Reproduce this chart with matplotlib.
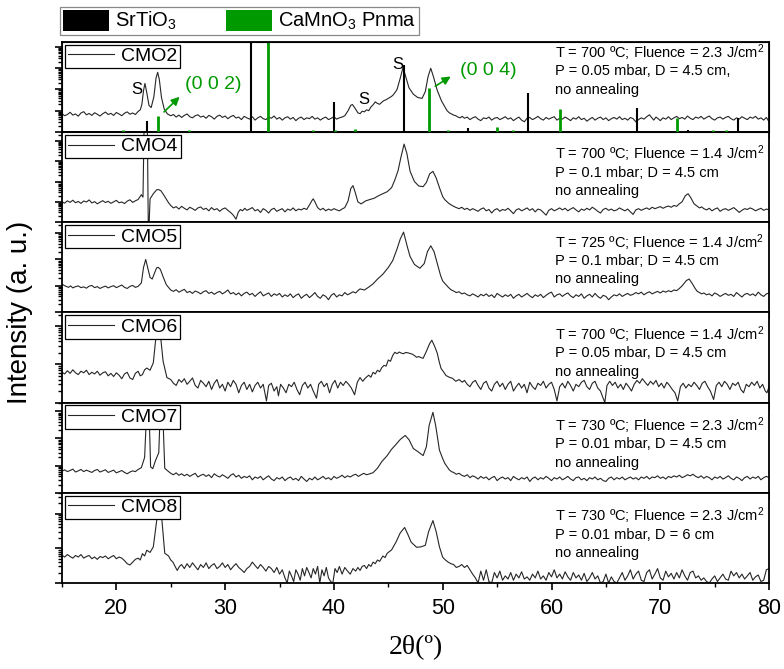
import numpy as np
import matplotlib.pyplot as plt
from matplotlib.patches import Patch
from matplotlib.ticker import LogLocator, MultipleLocator, NullFormatter

plt.rcParams['font.family'] = ['Liberation Sans', 'DejaVu Sans']
plt.rcParams['mathtext.fontset'] = 'custom'
plt.rcParams['mathtext.rm'] = 'Liberation Sans'
plt.rcParams['mathtext.it'] = 'Liberation Sans:italic'

GREEN = '#009a00'

# XRD patterns: (2theta, counts)
cmo2 = [
    (15.0, 72), (15.25, 58), (15.5, 66), (15.75, 84), (16.0, 62), (16.25, 70), (16.5, 55), (16.75, 78),
    (17.0, 90), (17.25, 64), (17.5, 74), (17.75, 60), (18.0, 80), (18.25, 68), (18.5, 56), (18.75, 72),
    (19.0, 86), (19.25, 66), (19.5, 75), (19.75, 60), (20.0, 82), (20.25, 70), (20.5, 58), (20.75, 76),
    (21.0, 88), (21.25, 68), (21.5, 78), (21.75, 66), (22.0, 92), (22.2, 110), (22.35, 200), (22.5, 900),
    (22.63, 1930), (22.8, 700), (23.0, 180), (23.2, 140), (23.45, 450), (23.65, 3500), (23.8, 6450), (23.95, 3000),
    (24.15, 420), (24.4, 120), (24.7, 70), (25.0, 58), (25.25, 66), (25.5, 50), (25.75, 62), (26.0, 48),
    (26.25, 60), (26.5, 70), (26.75, 52), (27.0, 46), (27.25, 58), (27.5, 64), (27.75, 50), (28.0, 56),
    (28.25, 44), (28.5, 60), (28.75, 52), (29.0, 40), (29.25, 54), (29.5, 62), (29.75, 48), (30.0, 56),
    (30.25, 42), (30.5, 52), (30.75, 60), (31.0, 45), (31.25, 50), (31.5, 38), (31.75, 54), (32.0, 46),
    (32.25, 40), (32.5, 52), (32.75, 36), (33.0, 46), (33.25, 54), (33.5, 42), (33.75, 38), (34.0, 50),
    (34.25, 44), (34.5, 56), (34.75, 40), (35.0, 48), (35.25, 36), (35.5, 46), (35.75, 52), (36.0, 40),
    (36.25, 48), (36.5, 34), (36.75, 44), (37.0, 50), (37.25, 38), (37.5, 46), (37.75, 42), (38.0, 54),
    (38.25, 40), (38.5, 46), (38.75, 36), (39.0, 44), (39.25, 50), (39.5, 38), (39.75, 44), (40.0, 52),
    (40.25, 40), (40.5, 46), (40.75, 50), (41.0, 58), (41.3, 100), (41.55, 180), (41.7, 195), (41.9, 140),
    (42.2, 80), (42.4, 72), (42.6, 95), (42.8, 88), (43.0, 110), (43.2, 100), (43.4, 150), (43.6, 190),
    (43.8, 260), (44.0, 220), (44.2, 200), (44.4, 250), (44.6, 300), (44.8, 330), (45.0, 380), (45.2, 440),
    (45.4, 520), (45.6, 700), (45.8, 1000), (46.1, 3500), (46.35, 11000), (46.6, 4000), (46.9, 1200), (47.3, 600),
    (47.7, 420), (48.1, 380), (48.4, 800), (48.65, 4000), (48.9, 10000), (49.15, 4000), (49.5, 900), (49.9, 280),
    (50.4, 100), (50.6, 80), (50.8, 70), (51.0, 62), (51.2, 58), (51.4, 50), (51.6, 46), (51.8, 54),
    (52.0, 44), (52.25, 50), (52.5, 38), (52.75, 46), (53.0, 52), (53.25, 40), (53.5, 34), (53.75, 46),
    (54.0, 42), (54.25, 50), (54.5, 36), (54.75, 44), (55.0, 48), (55.25, 38), (55.5, 44), (55.75, 52),
    (56.0, 40), (56.25, 46), (56.5, 34), (56.75, 42), (57.0, 50), (57.25, 36), (57.5, 30), (57.75, 44),
    (58.0, 48), (58.25, 38), (58.5, 44), (58.75, 54), (59.0, 42), (59.25, 36), (59.5, 48), (59.75, 40),
    (60.0, 46), (60.25, 52), (60.5, 36), (60.75, 44), (61.0, 40), (61.25, 50), (61.5, 42), (61.75, 34),
    (62.0, 46), (62.25, 40), (62.5, 52), (62.75, 38), (63.0, 44), (63.25, 32), (63.5, 40), (63.75, 48),
    (64.0, 36), (64.25, 44), (64.5, 50), (64.75, 38), (65.0, 46), (65.25, 34), (65.5, 42), (65.75, 48),
    (66.0, 40), (66.25, 52), (66.5, 38), (66.75, 44), (67.0, 36), (67.25, 48), (67.5, 42), (67.75, 30),
    (68.0, 38), (68.25, 46), (68.5, 40), (68.75, 52), (69.0, 64), (69.2, 48), (69.4, 36), (69.6, 50),
    (69.8, 42), (70.0, 34), (70.25, 46), (70.5, 40), (70.75, 52), (71.0, 38), (71.25, 46), (71.5, 54),
    (71.75, 42), (72.0, 48), (72.25, 40), (72.5, 56), (72.75, 44), (73.0, 38), (73.25, 50), (73.5, 44),
    (73.75, 54), (74.0, 40), (74.25, 48), (74.5, 56), (74.75, 42), (75.0, 36), (75.25, 46), (75.5, 50),
    (75.75, 40), (76.0, 48), (76.25, 54), (76.5, 42), (76.75, 36), (77.0, 46), (77.25, 40), (77.5, 52),
    (77.75, 44), (78.0, 38), (78.25, 50), (78.5, 44), (78.75, 54), (79.0, 40), (79.25, 46), (79.5, 36),
    (79.75, 48), (80.0, 30),
]

cmo4 = [
    (15.0, 100), (15.25, 86), (15.5, 112), (15.75, 94), (16.0, 120), (16.25, 90), (16.5, 104), (16.75, 84),
    (17.0, 110), (17.25, 98), (17.5, 124), (17.75, 88), (18.0, 102), (18.25, 80), (18.5, 96), (18.75, 114),
    (19.0, 92), (19.25, 106), (19.5, 84), (19.75, 100), (20.0, 118), (20.25, 90), (20.5, 98), (20.75, 82),
    (21.0, 108), (21.25, 126), (21.5, 94), (21.75, 112), (22.0, 130), (22.3, 224), (22.45, 170), (22.55, 500000),
    (22.85, 500000), (22.95, 1), (23.1, 140), (23.4, 250), (23.7, 390), (23.9, 400), (24.1, 350), (24.4, 200),
    (24.8, 90), (25.0, 66), (25.25, 50), (25.5, 58), (25.75, 44), (26.0, 60), (26.25, 48), (26.5, 40),
    (26.75, 54), (27.0, 46), (27.25, 38), (27.5, 50), (27.75, 56), (28.0, 42), (28.25, 48), (28.5, 36),
    (28.75, 52), (29.0, 40), (29.25, 46), (29.5, 34), (29.75, 44), (30.0, 50), (30.25, 38), (30.5, 30),
    (30.75, 22), (31.0, 14), (31.2, 30), (31.4, 42), (31.6, 36), (31.8, 48), (32.0, 38), (32.25, 44),
    (32.5, 52), (32.75, 36), (33.0, 42), (33.25, 30), (33.5, 46), (33.75, 38), (34.0, 28), (34.25, 42),
    (34.5, 48), (34.75, 34), (35.0, 40), (35.25, 46), (35.5, 32), (35.75, 44), (36.0, 38), (36.25, 50),
    (36.5, 36), (36.75, 44), (37.0, 40), (37.25, 48), (37.5, 42), (37.75, 70), (38.0, 120), (38.1, 140),
    (38.25, 100), (38.5, 52), (38.75, 40), (39.0, 48), (39.25, 36), (39.5, 44), (39.75, 38), (40.0, 46),
    (40.25, 40), (40.5, 36), (40.75, 44), (41.0, 52), (41.3, 110), (41.55, 450), (41.75, 630), (41.95, 300),
    (42.2, 100), (42.5, 79), (42.9, 110), (43.3, 130), (43.7, 150), (44.1, 200), (44.5, 250), (44.9, 316),
    (45.3, 500), (45.6, 1200), (45.9, 3500), (46.15, 15000), (46.45, 70000), (46.7, 25000), (47.0, 3200), (47.4, 1000),
    (47.8, 600), (48.2, 560), (48.5, 900), (48.8, 2400), (49.1, 3160), (49.4, 1500), (49.7, 500), (50.0, 180),
    (50.2, 126), (50.6, 80), (51.0, 60), (51.25, 52), (51.5, 46), (51.75, 54), (52.0, 42), (52.25, 48),
    (52.5, 38), (52.75, 46), (53.0, 40), (53.25, 34), (53.5, 44), (53.75, 50), (54.0, 36), (54.25, 42),
    (54.5, 28), (54.75, 40), (55.0, 46), (55.25, 34), (55.5, 42), (55.75, 38), (56.0, 48), (56.25, 36),
    (56.5, 26), (56.75, 40), (57.0, 46), (57.25, 36), (57.5, 42), (57.75, 50), (58.0, 38), (58.25, 46),
    (58.5, 32), (58.75, 44), (59.0, 40), (59.25, 30), (59.5, 22), (59.75, 38), (60.0, 46), (60.25, 36),
    (60.5, 42), (60.75, 50), (61.0, 40), (61.25, 48), (61.5, 36), (61.75, 44), (62.0, 52), (62.25, 40),
    (62.5, 32), (62.75, 44), (63.0, 38), (63.25, 48), (63.5, 40), (63.75, 54), (64.0, 44), (64.25, 34),
    (64.5, 28), (64.75, 42), (65.0, 48), (65.25, 38), (65.5, 44), (65.75, 36), (66.0, 40), (66.25, 50),
    (66.5, 42), (66.75, 36), (67.0, 44), (67.25, 32), (67.5, 24), (67.75, 40), (68.0, 46), (68.25, 38),
    (68.5, 44), (68.75, 50), (69.0, 42), (69.25, 54), (69.5, 46), (69.75, 52), (70.0, 58), (70.25, 48),
    (70.5, 56), (70.75, 62), (71.0, 54), (71.25, 66), (71.5, 60), (71.75, 80), (72.0, 100), (72.3, 200),
    (72.55, 251), (72.8, 160), (73.1, 80), (73.4, 60), (73.6, 50), (73.8, 56), (74.0, 46), (74.25, 40),
    (74.5, 48), (74.75, 36), (75.0, 44), (75.25, 50), (75.5, 34), (75.75, 42), (76.0, 46), (76.25, 38),
    (76.5, 44), (76.75, 52), (77.0, 40), (77.25, 30), (77.5, 38), (77.75, 46), (78.0, 42), (78.25, 50),
    (78.5, 44), (78.75, 36), (79.0, 42), (79.25, 48), (79.5, 38), (79.75, 44), (80.0, 40),
]

cmo5 = [
    (15.0, 119), (15.2, 104), (15.4, 96), (15.6, 88), (15.8, 100), (16.0, 84), (16.25, 94), (16.5, 100),
    (16.75, 86), (17.0, 92), (17.25, 82), (17.5, 98), (17.75, 104), (18.0, 86), (18.25, 94), (18.5, 80),
    (18.75, 90), (19.0, 98), (19.25, 84), (19.5, 94), (19.75, 102), (20.0, 86), (20.25, 96), (20.5, 108),
    (20.75, 88), (21.0, 80), (21.25, 96), (21.5, 104), (21.75, 88), (22.0, 96), (22.3, 130), (22.5, 500),
    (22.7, 1000), (22.9, 450), (23.1, 210), (23.3, 182), (23.5, 300), (23.7, 480), (23.85, 506), (24.05, 420),
    (24.3, 220), (24.6, 110), (25.0, 70), (25.25, 62), (25.5, 72), (25.75, 58), (26.0, 66), (26.25, 74),
    (26.5, 56), (26.75, 62), (27.0, 52), (27.25, 64), (27.5, 58), (27.75, 50), (28.0, 60), (28.25, 66),
    (28.5, 52), (28.75, 58), (29.0, 48), (29.25, 56), (29.5, 62), (29.75, 50), (30.0, 58), (30.25, 70),
    (30.5, 50), (30.75, 56), (31.0, 46), (31.25, 54), (31.5, 42), (31.75, 52), (32.0, 58), (32.25, 46),
    (32.5, 52), (32.75, 40), (33.0, 50), (33.25, 60), (33.5, 42), (33.75, 48), (34.0, 54), (34.25, 40),
    (34.5, 50), (34.75, 44), (35.0, 52), (35.25, 38), (35.5, 46), (35.75, 40), (36.0, 50), (36.25, 36),
    (36.5, 44), (36.75, 50), (37.0, 34), (37.25, 42), (37.5, 48), (37.75, 36), (38.0, 44), (38.25, 56),
    (38.5, 40), (38.75, 34), (39.0, 46), (39.25, 40), (39.5, 30), (39.75, 44), (40.0, 52), (40.25, 38),
    (40.5, 46), (40.75, 42), (41.0, 56), (41.25, 46), (41.5, 52), (41.75, 60), (42.0, 54), (42.2, 66),
    (42.4, 77), (42.8, 70), (43.2, 90), (43.6, 120), (44.0, 180), (44.5, 278), (45.0, 500), (45.4, 900),
    (45.8, 2500), (46.1, 6000), (46.4, 10890), (46.75, 3000), (47.0, 1300), (47.4, 650), (47.9, 465), (48.3, 700),
    (48.6, 2000), (48.9, 3300), (49.2, 2000), (49.5, 700), (49.8, 250), (50.0, 153), (50.5, 90), (50.75, 72),
    (51.0, 64), (51.25, 56), (51.5, 60), (51.75, 50), (52.0, 54), (52.25, 46), (52.5, 42), (52.75, 50),
    (53.0, 44), (53.25, 38), (53.5, 48), (53.75, 42), (54.0, 50), (54.25, 40), (54.5, 46), (54.75, 36),
    (55.0, 52), (55.25, 44), (55.5, 38), (55.75, 46), (56.0, 40), (56.25, 48), (56.5, 34), (56.75, 42),
    (57.0, 48), (57.25, 38), (57.5, 44), (57.75, 52), (58.0, 42), (58.25, 36), (58.5, 46), (58.75, 40),
    (59.0, 48), (59.25, 36), (59.5, 44), (59.75, 52), (60.0, 58), (60.25, 38), (60.5, 46), (60.75, 50),
    (61.0, 40), (61.25, 48), (61.5, 54), (61.75, 42), (62.0, 36), (62.25, 46), (62.5, 40), (62.75, 50),
    (63.0, 34), (63.25, 42), (63.5, 48), (63.75, 38), (64.0, 52), (64.25, 40), (64.5, 34), (64.75, 44),
    (65.0, 40), (65.25, 30), (65.5, 38), (65.75, 46), (66.0, 42), (66.25, 50), (66.5, 40), (66.75, 46),
    (67.0, 52), (67.25, 44), (67.5, 48), (67.75, 56), (68.0, 50), (68.25, 58), (68.5, 46), (68.75, 54),
    (69.0, 60), (69.25, 50), (69.5, 56), (69.75, 62), (70.0, 54), (70.25, 64), (70.5, 58), (70.75, 66),
    (71.0, 60), (71.25, 70), (71.5, 66), (71.75, 80), (72.0, 100), (72.4, 160), (72.65, 182), (72.9, 130),
    (73.2, 80), (73.4, 62), (73.6, 56), (73.8, 50), (74.0, 54), (74.25, 46), (74.5, 50), (74.75, 42),
    (75.0, 54), (75.25, 48), (75.5, 40), (75.75, 46), (76.0, 52), (76.25, 44), (76.5, 48), (76.75, 40),
    (77.0, 56), (77.25, 46), (77.5, 38), (77.75, 48), (78.0, 52), (78.25, 44), (78.5, 50), (78.75, 42),
    (79.0, 58), (79.25, 46), (79.5, 40), (79.75, 50), (80.0, 54),
]

cmo6 = [
    (15.0, 62), (15.25, 56), (15.5, 68), (15.75, 58), (16.0, 72), (16.25, 60), (16.5, 54), (16.75, 66),
    (17.0, 60), (17.25, 70), (17.5, 54), (17.75, 62), (18.0, 56), (18.25, 66), (18.5, 52), (18.75, 60),
    (19.0, 64), (19.25, 50), (19.5, 58), (19.75, 48), (20.0, 60), (20.25, 52), (20.5, 42), (20.75, 56),
    (21.0, 62), (21.25, 44), (21.5, 40), (21.75, 58), (22.0, 66), (22.2, 50), (22.4, 54), (22.6, 72),
    (22.8, 80), (23.1, 70), (23.4, 110), (23.6, 400), (23.85, 1700), (24.05, 600), (24.3, 120), (24.65, 45),
    (25.0, 40), (25.25, 32), (25.5, 28), (25.75, 40), (26.0, 34), (26.25, 42), (26.5, 30), (26.75, 36),
    (27.0, 44), (27.25, 28), (27.5, 24), (27.75, 38), (28.0, 32), (28.25, 26), (28.5, 36), (28.75, 22),
    (29.0, 32), (29.25, 40), (29.5, 24), (29.75, 30), (30.0, 20), (30.25, 34), (30.5, 26), (30.75, 38),
    (31.0, 30), (31.25, 18), (31.5, 28), (31.75, 34), (32.0, 22), (32.25, 30), (32.5, 19), (32.75, 28),
    (33.0, 34), (33.25, 24), (33.5, 30), (33.8, 11), (34.0, 28), (34.25, 32), (34.5, 20), (34.75, 26),
    (34.9, 15), (35.1, 30), (35.35, 24), (35.6, 18), (35.85, 30), (36.1, 26), (36.35, 34), (36.6, 22),
    (36.85, 16), (37.1, 28), (37.35, 34), (37.6, 24), (37.85, 30), (38.1, 20), (38.4, 13), (38.6, 30),
    (38.85, 36), (39.1, 26), (39.35, 32), (39.6, 18), (39.85, 30), (40.1, 38), (40.35, 24), (40.6, 34),
    (40.85, 28), (41.1, 36), (41.35, 30), (41.6, 24), (41.9, 16), (42.15, 34), (42.4, 45), (42.65, 36),
    (42.9, 44), (43.2, 52), (43.4, 46), (43.6, 62), (43.8, 56), (44.0, 70), (44.2, 64), (44.4, 82),
    (44.6, 94), (44.8, 90), (45.0, 130), (45.2, 120), (45.4, 170), (45.6, 207), (45.8, 190), (46.0, 210),
    (46.2, 196), (46.4, 190), (46.6, 205), (46.8, 200), (47.0, 192), (47.2, 185), (47.4, 170), (47.6, 153),
    (47.8, 160), (48.0, 150), (48.2, 144), (48.5, 220), (48.8, 350), (49.0, 428), (49.25, 300), (49.5, 195),
    (49.7, 110), (49.85, 78), (50.1, 62), (50.3, 51), (50.6, 46), (50.9, 43), (51.2, 36), (51.5, 40),
    (51.8, 34), (52.0, 38), (52.25, 30), (52.5, 26), (52.75, 34), (53.0, 38), (53.25, 28), (53.5, 22),
    (53.75, 32), (54.0, 36), (54.25, 24), (54.5, 20), (54.75, 30), (55.0, 36), (55.25, 26), (55.5, 32),
    (55.75, 22), (56.0, 30), (56.25, 36), (56.5, 20), (56.75, 26), (57.0, 32), (57.25, 24), (57.5, 30),
    (57.75, 18), (58.0, 34), (58.25, 26), (58.5, 22), (58.75, 32), (59.0, 28), (59.25, 36), (59.5, 24),
    (59.75, 30), (60.0, 34), (60.25, 22), (60.5, 11), (60.75, 26), (61.0, 32), (61.25, 24), (61.5, 36),
    (61.75, 28), (62.0, 20), (62.25, 30), (62.5, 26), (62.75, 34), (63.0, 38), (63.25, 26), (63.5, 22),
    (63.75, 32), (64.0, 36), (64.25, 24), (64.5, 20), (64.7, 14), (64.9, 10), (65.1, 28), (65.35, 36),
    (65.6, 28), (65.85, 34), (66.1, 24), (66.35, 30), (66.6, 22), (66.85, 32), (67.1, 26), (67.35, 20),
    (67.6, 30), (67.85, 38), (68.1, 32), (68.35, 42), (68.6, 34), (68.85, 28), (69.1, 36), (69.35, 30),
    (69.6, 38), (69.85, 26), (70.1, 32), (70.35, 24), (70.6, 34), (70.85, 28), (71.1, 22), (71.35, 18),
    (71.6, 11), (71.85, 26), (72.1, 32), (72.35, 24), (72.6, 30), (72.85, 26), (73.1, 34), (73.35, 28),
    (73.6, 22), (73.85, 32), (74.1, 36), (74.35, 26), (74.6, 20), (74.9, 12), (75.15, 28), (75.4, 34),
    (75.65, 26), (75.9, 36), (76.15, 30), (76.4, 22), (76.65, 32), (76.9, 28), (77.15, 34), (77.4, 22),
    (77.65, 18), (77.9, 30), (78.15, 26), (78.4, 34), (78.65, 28), (78.9, 36), (79.15, 24), (79.4, 30),
    (79.65, 20), (79.8, 18), (80.0, 26),
]

cmo7 = [
    (15.0, 62), (15.25, 70), (15.5, 60), (15.75, 66), (16.0, 74), (16.25, 58), (16.5, 64), (16.75, 72),
    (17.0, 60), (17.25, 68), (17.5, 62), (17.75, 56), (18.0, 66), (18.25, 72), (18.5, 58), (18.75, 64),
    (19.0, 70), (19.25, 56), (19.5, 62), (19.75, 68), (20.0, 54), (20.25, 60), (20.5, 66), (20.75, 56),
    (21.0, 50), (21.25, 58), (21.5, 64), (21.75, 60), (22.0, 72), (22.3, 84), (22.6, 200), (22.8, 14000),
    (23.0, 14000), (23.15, 90), (23.35, 77), (23.6, 153), (23.9, 300), (24.05, 14000), (24.25, 14000), (24.45, 80),
    (24.7, 65), (25.0, 52), (25.25, 46), (25.5, 54), (25.75, 44), (26.0, 50), (26.25, 42), (26.5, 48),
    (26.75, 40), (27.0, 46), (27.25, 52), (27.5, 38), (27.75, 44), (28.0, 48), (28.25, 40), (28.5, 46),
    (28.75, 36), (29.0, 50), (29.25, 42), (29.5, 38), (29.75, 46), (30.0, 40), (30.25, 34), (30.5, 44),
    (30.75, 50), (31.0, 38), (31.25, 44), (31.5, 34), (31.75, 40), (32.0, 36), (32.25, 42), (32.5, 30),
    (32.75, 38), (33.0, 34), (33.25, 40), (33.5, 30), (33.75, 36), (34.0, 42), (34.25, 32), (34.5, 28),
    (34.75, 36), (35.0, 32), (35.25, 38), (35.5, 28), (35.75, 34), (36.0, 38), (36.25, 30), (36.5, 34),
    (36.75, 28), (37.0, 40), (37.25, 32), (37.5, 26), (37.75, 34), (38.0, 30), (38.25, 38), (38.5, 30),
    (38.75, 34), (39.0, 40), (39.25, 32), (39.5, 36), (39.75, 30), (40.0, 40), (40.25, 34), (40.5, 38),
    (40.75, 44), (41.0, 36), (41.25, 42), (41.5, 38), (41.75, 44), (42.0, 48), (42.25, 40), (42.5, 46),
    (42.75, 52), (43.0, 46), (43.3, 50), (43.6, 55), (44.0, 80), (44.4, 140), (44.9, 234), (45.3, 400),
    (45.7, 600), (46.1, 920), (46.55, 1290), (46.9, 900), (47.3, 427), (47.7, 330), (48.2, 234), (48.5, 500),
    (48.75, 3000), (49.1, 9180), (49.35, 3000), (49.7, 370), (50.0, 180), (50.2, 119), (50.6, 70), (50.8, 60),
    (51.0, 56), (51.25, 48), (51.5, 52), (51.75, 44), (52.0, 40), (52.25, 46), (52.5, 36), (52.75, 42),
    (53.0, 38), (53.25, 32), (53.5, 40), (53.75, 34), (54.0, 38), (54.25, 30), (54.5, 36), (54.75, 40),
    (55.0, 28), (55.25, 34), (55.5, 38), (55.75, 32), (56.0, 36), (56.25, 28), (56.5, 40), (56.75, 34),
    (57.0, 30), (57.25, 36), (57.5, 32), (57.75, 38), (58.0, 26), (58.25, 34), (58.5, 38), (58.75, 30),
    (59.0, 36), (59.25, 32), (59.5, 40), (59.75, 34), (60.0, 28), (60.25, 36), (60.5, 32), (60.75, 38),
    (61.0, 30), (61.25, 34), (61.5, 40), (61.75, 32), (62.0, 28), (62.25, 36), (62.5, 38), (62.75, 30),
    (63.0, 34), (63.25, 28), (63.5, 36), (63.75, 32), (64.0, 38), (64.25, 30), (64.5, 34), (64.75, 28),
    (65.0, 26), (65.25, 34), (65.5, 38), (65.75, 30), (66.0, 36), (66.25, 32), (66.5, 38), (66.75, 30),
    (67.0, 34), (67.25, 38), (67.5, 32), (67.75, 36), (68.0, 30), (68.25, 38), (68.5, 34), (68.75, 40),
    (69.0, 32), (69.25, 38), (69.5, 36), (69.75, 42), (70.0, 34), (70.25, 38), (70.5, 32), (70.75, 40),
    (71.0, 36), (71.25, 42), (71.5, 38), (71.75, 44), (72.0, 36), (72.25, 40), (72.5, 46), (72.75, 42),
    (73.0, 48), (73.25, 40), (73.5, 36), (73.75, 42), (74.0, 34), (74.25, 40), (74.5, 36), (74.75, 30),
    (75.0, 38), (75.25, 34), (75.5, 40), (75.75, 32), (76.0, 36), (76.25, 42), (76.5, 34), (76.75, 30),
    (77.0, 38), (77.25, 34), (77.5, 28), (77.75, 36), (78.0, 40), (78.25, 32), (78.5, 38), (78.75, 34),
    (79.0, 40), (79.25, 30), (79.5, 36), (79.75, 40), (80.0, 36),
]

cmo8 = [
    (15.0, 63), (15.25, 56), (15.5, 66), (15.75, 58), (16.0, 52), (16.25, 62), (16.5, 56), (16.75, 66),
    (17.0, 52), (17.25, 58), (17.5, 62), (17.75, 50), (18.0, 56), (18.25, 48), (18.5, 58), (18.75, 54),
    (19.0, 60), (19.25, 50), (19.5, 56), (19.75, 62), (20.0, 50), (20.25, 56), (20.5, 52), (20.75, 44),
    (21.0, 36), (21.25, 33), (21.5, 40), (21.75, 48), (22.0, 52), (22.2, 46), (22.4, 70), (22.6, 60),
    (22.8, 88), (23.1, 76), (23.4, 110), (23.7, 600), (23.95, 1930), (24.2, 600), (24.45, 72), (24.8, 60),
    (25.0, 46), (25.2, 40), (25.4, 30), (25.6, 23), (25.8, 30), (26.0, 34), (26.25, 26), (26.5, 36),
    (26.75, 28), (27.0, 38), (27.25, 30), (27.5, 24), (27.75, 34), (28.0, 28), (28.25, 38), (28.5, 26),
    (28.75, 32), (29.0, 36), (29.25, 26), (29.5, 30), (29.75, 38), (30.0, 28), (30.25, 34), (30.5, 24),
    (30.75, 30), (31.0, 36), (31.25, 28), (31.5, 24), (31.75, 20), (32.0, 26), (32.25, 30), (32.5, 40),
    (32.75, 32), (33.0, 26), (33.25, 34), (33.5, 28), (33.75, 22), (34.0, 30), (34.25, 26), (34.5, 20),
    (34.75, 28), (35.0, 18), (35.25, 24), (35.5, 14), (35.7, 10), (35.9, 22), (36.1, 16), (36.3, 11),
    (36.5, 24), (36.7, 18), (36.9, 12), (37.1, 26), (37.3, 16), (37.5, 28), (37.7, 20), (37.9, 14),
    (38.1, 26), (38.3, 18), (38.5, 30), (38.7, 10), (38.9, 24), (39.1, 16), (39.3, 28), (39.5, 14),
    (39.7, 11), (39.9, 10), (40.1, 26), (40.3, 20), (40.5, 30), (40.75, 18), (41.0, 28), (41.25, 22),
    (41.5, 18), (41.75, 26), (42.0, 22), (42.2, 28), (42.4, 23), (42.6, 30), (42.8, 32), (43.0, 26),
    (43.2, 34), (43.4, 30), (43.6, 40), (43.8, 36), (44.0, 46), (44.2, 42), (44.5, 60), (44.7, 54),
    (44.9, 72), (45.3, 90), (45.7, 150), (46.1, 280), (46.5, 398), (46.8, 250), (47.1, 150), (47.6, 107),
    (48.0, 110), (48.4, 122), (48.7, 300), (49.1, 631), (49.4, 300), (49.7, 110), (50.0, 55), (50.25, 46),
    (50.5, 40), (50.75, 36), (51.0, 34), (51.25, 28), (51.5, 30), (51.75, 34), (52.0, 28), (52.25, 32),
    (52.5, 24), (52.75, 18), (53.0, 14), (53.25, 10), (53.5, 22), (53.75, 12), (54.0, 24), (54.25, 11),
    (54.5, 10), (54.75, 20), (55.0, 14), (55.25, 22), (55.5, 12), (55.75, 16), (56.0, 13), (56.25, 20),
    (56.5, 12), (56.75, 18), (57.0, 14), (57.25, 21), (57.5, 13), (57.75, 15), (58.0, 12), (58.25, 18),
    (58.5, 14), (58.75, 22), (59.0, 13), (59.25, 16), (59.5, 12), (59.75, 20), (60.0, 15), (60.25, 24),
    (60.5, 14), (60.75, 18), (61.0, 13), (61.25, 21), (61.5, 15), (61.75, 12), (62.0, 20), (62.25, 14),
    (62.5, 17), (62.75, 12), (63.0, 19), (63.25, 11), (63.5, 14), (63.75, 20), (64.0, 13), (64.25, 16),
    (64.5, 10), (64.75, 11), (65.0, 18), (65.25, 10), (65.5, 15), (65.75, 11), (66.0, 10), (66.25, 14),
    (66.5, 20), (66.75, 12), (67.0, 16), (67.25, 24), (67.5, 13), (67.75, 18), (68.0, 22), (68.25, 12),
    (68.5, 11), (68.75, 20), (69.0, 24), (69.25, 13), (69.5, 18), (69.75, 26), (70.0, 14), (70.25, 12),
    (70.5, 22), (70.75, 15), (71.0, 19), (71.25, 13), (71.5, 20), (71.75, 14), (72.0, 24), (72.25, 16),
    (72.5, 12), (72.75, 20), (73.0, 22), (73.25, 14), (73.5, 16), (73.75, 12), (74.0, 14), (74.25, 11),
    (74.5, 10), (74.75, 13), (75.0, 16), (75.25, 11), (75.5, 14), (75.75, 18), (76.0, 13), (76.25, 12),
    (76.5, 22), (76.75, 16), (77.0, 20), (77.25, 14), (77.5, 18), (77.75, 13), (78.0, 16), (78.25, 20),
    (78.5, 12), (78.75, 15), (79.0, 17), (79.25, 11), (79.5, 12), (79.75, 24), (80.0, 26),
]

samples = ['CMO2', 'CMO4', 'CMO5', 'CMO6', 'CMO7', 'CMO8']
patterns = [cmo2, cmo4, cmo5, cmo6, cmo7, cmo8]
conditions = [
    ['T = 700 ºC; Fluence = 2.3 J/cm$^2$', 'P = 0.05 mbar, D = 4.5 cm,', 'no annealing'],
    ['T = 700 ºC; Fluence = 1.4 J/cm$^2$', 'P = 0.1 mbar; D = 4.5 cm', 'no annealing'],
    ['T = 725 ºC; Fluence = 1.4 J/cm$^2$', 'P = 0.1 mbar; D = 4.5 cm', 'no annealing'],
    ['T = 700 ºC; Fluence = 1.4 J/cm$^2$', 'P = 0.05 mbar, D = 4.5 cm', 'no annealing'],
    ['T = 730 ºC; Fluence = 2.3 J/cm$^2$', 'P = 0.01 mbar, D = 4.5 cm', 'no annealing'],
    ['T = 730 ºC; Fluence = 2.3 J/cm$^2$', 'P = 0.01 mbar, D = 6 cm', 'no annealing'],
]

# reference patterns (relative intensity, %)
sto_pos = [22.78, 32.42, 40.0, 46.45, 52.36, 57.8, 67.84, 72.56, 77.18]
sto_int = [12, 100, 33, 74, 4, 43, 27, 2, 15]
cmo_pos = [20.6, 23.8, 26.7, 33.95, 38.1, 40.1, 41.9, 48.75, 50.5, 55.0, 56.5, 60.8, 71.5, 74.8, 76.0]
cmo_int = [2, 18, 2, 100, 2, 2, 3, 49, 2, 5, 2, 25, 15, 2, 2]

ylims = [(10, 1.8e5), (10, 2.8e5), (10, 2.6e4), (10, 2.3e3), (10, 2.1e4), (10, 4.0e3)]
text_top_px = [11, 22, 20, 22, 23, 23]  # first text line centre below panel top

fig, axes = plt.subplots(6, 1, sharex=True, figsize=(7.84, 6.69), dpi=100,
                         gridspec_kw=dict(hspace=0))
fig.subplots_adjust(left=0.079, right=0.981, top=0.9377, bottom=0.1286)

panel_h = 89.3
for ax, name, pat, cond, yl, ty in zip(axes, samples, patterns, conditions, ylims, text_top_px):
    tt, counts = np.array(pat, dtype=float).T
    ax.plot(tt, counts, color='#262626', lw=0.8, label=name)
    ax.set_yscale('log')
    ax.set_ylim(*yl)
    ax.set_xlim(15, 80)
    ax.yaxis.set_major_locator(LogLocator(base=10, numticks=20))
    ax.yaxis.set_minor_locator(LogLocator(base=10, subs=np.arange(2, 10), numticks=100))
    ax.yaxis.set_major_formatter(NullFormatter())
    ax.yaxis.set_minor_formatter(NullFormatter())
    ax.xaxis.set_major_locator(MultipleLocator(10))
    ax.xaxis.set_minor_locator(MultipleLocator(5))
    ax.tick_params(axis='both', which='major', direction='out', length=5, width=1.2,
                   labelsize=15.5, pad=6)
    ax.tick_params(axis='both', which='minor', direction='out', length=3, width=1.0)
    for sp in ax.spines.values():
        sp.set_linewidth(1.3)
    leg = ax.legend(loc='upper left', fontsize=14, handlelength=2.4, handletextpad=0.35,
                    borderpad=0.15, borderaxespad=0.15, fancybox=False, framealpha=1,
                    edgecolor='black')
    leg.get_frame().set_linewidth(0.9)
    leg.set_zorder(10)
    for i, line in enumerate(cond):
        ax.text(0.697, 1 - (ty + 18.4 * i) / panel_h, line, transform=ax.transAxes,
                fontsize=10.5, va='center', ha='left')

# stick patterns on the top panel
ax0 = axes[0]
ref = ax0.twinx()
ref.set_ylim(0, 100)
ref.set_yticks([])
ref.vlines(sto_pos, 0, sto_int, color='black', lw=1.5)
ref.vlines(cmo_pos, 0, cmo_int, color=GREEN, lw=2.0)
ref.set_xlim(15, 80)

# peak labels
for x, yf in [(21.9, 0.47), (42.7, 0.36), (45.9, 0.75)]:
    ax0.text(x, yf, 'S', transform=ax0.get_xaxis_transform(), fontsize=12,
             ha='center', va='center')
ax0.annotate('(0 0 2)', xy=(26.3, 0.52), xycoords=ax0.get_xaxis_transform(),
             color=GREEN, fontsize=14, ha='left', va='center')
ax0.annotate('', xy=(26.0, 0.41), xytext=(24.2, 0.20),
             xycoords=ax0.get_xaxis_transform(), textcoords=ax0.get_xaxis_transform(),
             arrowprops=dict(arrowstyle='-|>', color=GREEN, lw=1.2, mutation_scale=12))
ax0.annotate('(0 0 4)', xy=(51.6, 0.68), xycoords=ax0.get_xaxis_transform(),
             color=GREEN, fontsize=14, ha='left', va='center')
ax0.annotate('', xy=(50.95, 0.63), xytext=(49.1, 0.49),
             xycoords=ax0.get_xaxis_transform(), textcoords=ax0.get_xaxis_transform(),
             arrowprops=dict(arrowstyle='-|>', color=GREEN, lw=1.2, mutation_scale=12))

# top legend for reference patterns
handles = [Patch(facecolor='black', edgecolor='none', label='SrTiO$_3$'),
           Patch(facecolor=GREEN, edgecolor='none', label='CaMnO$_3$ Pnma')]
fl = fig.legend(handles=handles, loc='upper left', bbox_to_anchor=(60 / 784, 1 - 7 / 669),
                ncol=2, fontsize=14.5, handlelength=2.3, handleheight=1.2,
                handletextpad=0.3, columnspacing=2.4, borderpad=0.15, borderaxespad=0,
                fancybox=False, edgecolor='#888888', framealpha=1)
fl.get_frame().set_linewidth(0.9)

fig.text(20 / 784, 1 - 312 / 669, 'Intensity (a. u.)', rotation=90, fontsize=20,
         ha='center', va='center')
fig.text(415.5 / 784, 1 - 648 / 669, '2θ(º)', fontsize=20, ha='center', va='center',
         family=['Liberation Serif', 'DejaVu Serif'])

fig.savefig('out.png', dpi=100)
